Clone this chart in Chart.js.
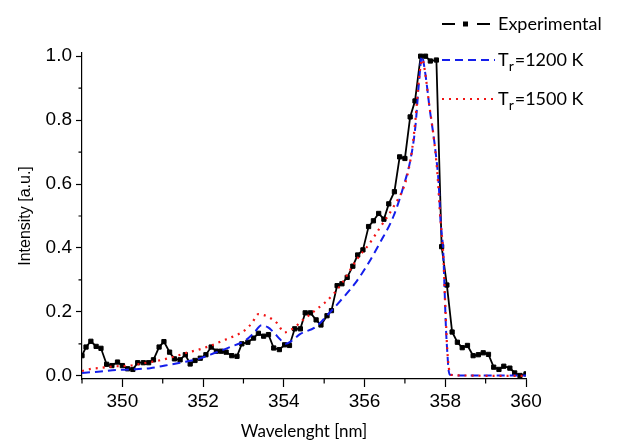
<!DOCTYPE html>
<html>
<head>
    <script src="https://cdn.jsdelivr.net/npm/chart.js"></script>
    <style>
        body { margin: 0; background: #fff; }
        #wrap { width: 624px; height: 444px; }
    </style>
</head>
<body>
    <div id="wrap"><canvas id="spectrum" width="624" height="444"></canvas></div>
    <script>
        // experimental spectrum
        const expWavelength = [349.0, 349.1, 349.22, 349.35, 349.47, 349.61, 349.74, 349.88, 350.0, 350.13,
            350.26, 350.38, 350.52, 350.65, 350.77, 350.91, 351.03, 351.17, 351.29, 351.43,
            351.56, 351.68, 351.8, 351.93, 352.07, 352.2, 352.33, 352.45, 352.57, 352.71,
            352.84, 352.96, 353.11, 353.25, 353.37, 353.5, 353.62, 353.75, 353.89, 354.02,
            354.14, 354.27, 354.41, 354.53, 354.66, 354.8, 354.92, 355.07, 355.18, 355.32,
            355.44, 355.57, 355.71, 355.83, 355.96, 356.1, 356.22, 356.35, 356.48, 356.6,
            356.74, 356.87, 357.0, 357.13, 357.25, 357.39, 357.51, 357.63, 357.78, 357.91,
            358.04, 358.17, 358.3, 358.42, 358.55, 358.69, 358.82, 358.94, 359.07, 359.2,
            359.33, 359.45, 359.6, 359.72, 359.85, 360.0];
        const expIntensity = [0.063, 0.09, 0.108, 0.092, 0.086, 0.036, 0.032, 0.043, 0.032, 0.022,
            0.02, 0.041, 0.041, 0.041, 0.05, 0.09, 0.107, 0.074, 0.053, 0.05,
            0.066, 0.037, 0.048, 0.055, 0.066, 0.09, 0.077, 0.077, 0.074, 0.063,
            0.061, 0.1, 0.105, 0.118, 0.133, 0.124, 0.129, 0.087, 0.082, 0.097,
            0.095, 0.147, 0.147, 0.197, 0.197, 0.175, 0.159, 0.188, 0.204, 0.282,
            0.288, 0.308, 0.343, 0.378, 0.394, 0.467, 0.485, 0.508, 0.49, 0.538,
            0.576, 0.685, 0.68, 0.81, 0.86, 1.0, 1.0, 0.985, 0.988, 0.404,
            0.284, 0.137, 0.105, 0.088, 0.095, 0.063, 0.066, 0.072, 0.067, 0.027,
            0.02, 0.03, 0.024, 0.009, 0.001, 0.006];

        // simulated, Tr = 1200 K
        const fit1200Wavelength = [349.0, 349.4, 349.86, 350.23, 350.69, 351.06, 351.43, 351.89, 352.3, 352.67,
            353.04, 353.25, 353.45, 353.6, 353.75, 353.9, 354.05, 354.2, 354.41, 354.78,
            355.11, 355.48, 355.77, 356.06, 356.39, 356.72, 356.97, 357.14, 357.26, 357.35,
            357.42, 357.5, 357.63, 357.7, 357.76, 357.84, 357.88, 357.95, 357.98, 358.02,
            358.05, 358.08, 358.12, 358.5, 359.0, 360.0];
        const fit1200Intensity = [0.009, 0.013, 0.018, 0.02, 0.024, 0.032, 0.041, 0.053, 0.072, 0.09,
            0.11, 0.133, 0.158, 0.152, 0.136, 0.115, 0.1, 0.11, 0.131, 0.152,
            0.194, 0.246, 0.29, 0.345, 0.418, 0.5, 0.595, 0.678, 0.78, 0.92,
            1.0, 0.95, 0.82, 0.76, 0.7, 0.595, 0.49, 0.386, 0.28, 0.14,
            0.075, 0.02, 0.003, 0.001, 0.001, 0.001];

        // simulated, Tr = 1500 K
        const fit1500Wavelength = [349.0, 349.24, 349.49, 349.74, 350.19, 350.55, 350.91, 351.14, 351.39, 351.64,
            351.87, 352.2, 352.55, 352.8, 353.03, 353.21, 353.37, 353.5, 353.62, 353.83,
            354.02, 354.24, 354.43, 354.82, 355.03, 355.26, 355.44, 355.82, 356.1, 356.39,
            356.7, 357.0, 357.1, 357.18, 357.26, 357.35, 357.43, 357.5, 357.6, 357.7,
            357.8, 357.88, 357.95, 358.0, 358.05, 358.1, 358.15, 358.5, 359.0, 360.0];
        const fit1500Intensity = [0.015, 0.022, 0.025, 0.029, 0.032, 0.04, 0.048, 0.055, 0.064, 0.074,
            0.081, 0.095, 0.113, 0.126, 0.142, 0.165, 0.193, 0.19, 0.184, 0.165,
            0.136, 0.149, 0.17, 0.209, 0.23, 0.26, 0.29, 0.366, 0.41, 0.465,
            0.525, 0.6, 0.65, 0.71, 0.8, 0.93, 0.99, 0.95, 0.85, 0.76,
            0.64, 0.49, 0.38, 0.22, 0.08, 0.015, 0.003, 0.001, 0.0, 0.0];

        const xMajorTicks = [350, 352, 354, 356, 358, 360];
        const xMinorTicks = [349, 351, 353, 355, 357, 359];
        const yMajorTicks = [0.0, 0.2, 0.4, 0.6, 0.8, 1.0];
        const yMinorTicks = [0.1, 0.3, 0.5, 0.7, 0.9];

        const toPoints = (xs, ys) => xs.map((x, i) => ({ x: x, y: ys[i] }));

        const tickFont = { family: '"Liberation Sans", Arial, sans-serif', size: 19 };

        // minor ticks and the legend with subscript
        const extras = {
            id: 'extras',
            afterDraw(chart) {
                const ctx = chart.ctx;
                const xs = chart.scales.x, ys = chart.scales.y;
                const area = chart.chartArea;
                ctx.save();
                ctx.strokeStyle = '#000';
                ctx.lineWidth = 1.2;
                ctx.beginPath();
                xMinorTicks.forEach(v => {
                    const px = xs.getPixelForValue(v);
                    ctx.moveTo(px, area.bottom);
                    ctx.lineTo(px, area.bottom + 4.5);
                });
                yMinorTicks.forEach(v => {
                    const py = ys.getPixelForValue(v);
                    ctx.moveTo(area.left, py);
                    ctx.lineTo(area.left - 3.5, py);
                });
                ctx.stroke();

                // legend
                const lx0 = 442, tx = 498;
                ctx.font = '18px Lato, sans-serif';
                ctx.fillStyle = '#000';
                ctx.textBaseline = 'middle';

                ctx.lineWidth = 1.8;
                ctx.beginPath();
                ctx.moveTo(lx0, 24); ctx.lineTo(lx0 + 13, 24);
                ctx.moveTo(lx0 + 35, 24); ctx.lineTo(lx0 + 48, 24);
                ctx.stroke();
                ctx.fillRect(lx0 + 21, 21.5, 5, 5);
                ctx.fillText('Experimental', tx, 24);

                ctx.strokeStyle = 'rgb(20,30,235)';
                ctx.lineWidth = 2;
                ctx.setLineDash([8, 5]);
                ctx.beginPath();
                ctx.moveTo(lx0, 60); ctx.lineTo(lx0 + 53, 60);
                ctx.stroke();

                ctx.strokeStyle = 'rgb(240,20,20)';
                ctx.lineWidth = 2.2;
                ctx.setLineDash([2, 5]);
                ctx.beginPath();
                ctx.moveTo(lx0, 99); ctx.lineTo(lx0 + 51, 99);
                ctx.stroke();
                ctx.setLineDash([]);

                [['=1200 K', 60], ['=1500 K', 99]].forEach(([txt, y]) => {
                    ctx.font = '18px Lato, sans-serif';
                    ctx.fillText('T', tx, y);
                    const tw = ctx.measureText('T').width;
                    ctx.font = '14px Lato, sans-serif';
                    ctx.fillText('r', tx + tw, y + 6);
                    const rw = ctx.measureText('r').width;
                    ctx.font = '18px Lato, sans-serif';
                    ctx.fillText(txt, tx + tw + rw + 1, y);
                });
                ctx.restore();
            }
        };

        const ctx = document.getElementById('spectrum').getContext('2d');
        new Chart(ctx, {
            type: 'line',
            data: {
                datasets: [
                    {
                        label: 'Tr=1500 K',
                        data: toPoints(fit1500Wavelength, fit1500Intensity),
                        borderColor: 'rgb(240,20,20)',
                        borderWidth: 2.2,
                        borderDash: [2, 5],
                        pointRadius: 0,
                        cubicInterpolationMode: 'monotone'
                    },
                    {
                        label: 'Tr=1200 K',
                        data: toPoints(fit1200Wavelength, fit1200Intensity),
                        borderColor: 'rgb(20,30,235)',
                        borderWidth: 2,
                        borderDash: [8, 5],
                        pointRadius: 0,
                        cubicInterpolationMode: 'monotone'
                    },
                    {
                        label: 'Experimental',
                        data: toPoints(expWavelength, expIntensity),
                        borderColor: '#000',
                        borderWidth: 1.8,
                        pointStyle: 'rect',
                        pointRadius: 3,
                        pointBorderWidth: 1,
                        pointBackgroundColor: '#000',
                        pointBorderColor: '#000',
                        tension: 0
                    }
                ]
            },
            options: {
                responsive: false,
                animation: false,
                layout: { padding: { top: 53, right: 98, left: 0, bottom: 0 } },
                plugins: {
                    legend: { display: false },
                    tooltip: { enabled: false }
                },
                scales: {
                    x: {
                        type: 'linear',
                        min: 349,
                        max: 360,
                        afterBuildTicks: s => { s.ticks = xMajorTicks.map(v => ({ value: v })); },
                        afterFit: s => { s.height = 65; },
                        grid: { drawOnChartArea: false, tickLength: 8, color: '#000', tickWidth: 1.2 },
                        border: { color: '#000', width: 1.2 },
                        ticks: { color: '#000', font: tickFont, padding: 3, maxRotation: 0 },
                        title: {
                            display: true,
                            text: 'Wavelenght [nm]',
                            color: '#000',
                            font: { family: 'Lato, sans-serif', size: 17 },
                            padding: { top: 0, bottom: 2 }
                        }
                    },
                    y: {
                        min: -0.01,
                        max: 1.01,
                        afterBuildTicks: s => { s.ticks = yMajorTicks.map(v => ({ value: v })); },
                        afterFit: s => { s.width = 82; },
                        grid: { drawOnChartArea: false, tickLength: 6, color: '#000', tickWidth: 1.2 },
                        border: { color: '#000', width: 1.2 },
                        ticks: { color: '#000', font: tickFont, padding: 4, callback: v => v.toFixed(1) },
                        title: {
                            display: true,
                            text: 'Intensity [a.u.]',
                            color: '#000',
                            font: { family: '"Liberation Sans", Arial, sans-serif', size: 16 },
                            padding: { top: 16, bottom: 0 }
                        }
                    }
                }
            },
            plugins: [extras]
        });
    </script>
</body>
</html>
